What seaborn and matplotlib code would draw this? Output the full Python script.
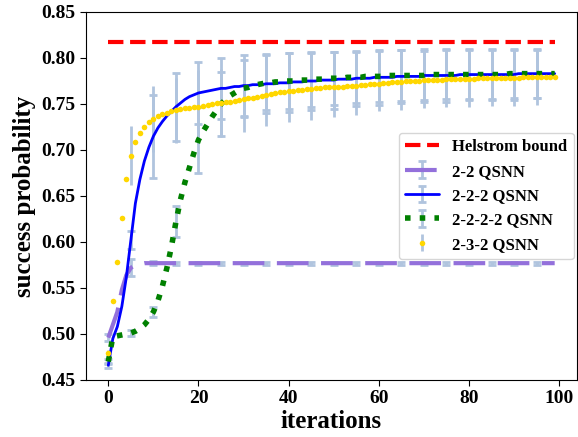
import numpy as np
import matplotlib
matplotlib.use("Agg")
import matplotlib.pyplot as plt
import seaborn as sns

# ---------------- data ----------------
iterations = list(range(100))
helstrom = 0.817

qsnn_22 = [0.496, 0.510, 0.524, 0.548, 0.564, 0.572, 0.575, 0.576, 0.577, 0.577] + [0.577] * 90

qsnn_222 = [0.466, 0.495, 0.508, 0.530, 0.562, 0.602, 0.642, 0.668, 0.688, 0.703,
            0.715, 0.724, 0.731, 0.737, 0.742, 0.747, 0.751, 0.755, 0.758, 0.760,
            0.762, 0.763, 0.764, 0.765, 0.766, 0.767, 0.767, 0.768, 0.769, 0.769,
            0.770, 0.770, 0.771, 0.771, 0.771, 0.772, 0.772, 0.772, 0.773, 0.773,
            0.773, 0.774, 0.774, 0.774, 0.775, 0.775, 0.775, 0.776, 0.776, 0.776,
            0.776, 0.777, 0.777, 0.777, 0.777, 0.778, 0.778, 0.778, 0.778, 0.779,
            0.779, 0.779, 0.779, 0.779, 0.780, 0.780, 0.780, 0.780, 0.780, 0.780,
            0.781, 0.781, 0.781, 0.781, 0.781, 0.781, 0.781, 0.781, 0.782, 0.782,
            0.782, 0.782, 0.782, 0.782, 0.782, 0.782, 0.782, 0.782, 0.782, 0.782,
            0.782, 0.783, 0.783, 0.783, 0.783, 0.783, 0.783, 0.783, 0.783, 0.783]

qsnn_2222 = [0.470, 0.497, 0.498, 0.499, 0.500, 0.501, 0.503, 0.506, 0.510, 0.516,
             0.524, 0.536, 0.552, 0.572, 0.595, 0.622, 0.646, 0.665, 0.681, 0.697,
             0.711, 0.720, 0.728, 0.736, 0.743, 0.750, 0.755, 0.759, 0.762, 0.765,
             0.767, 0.768, 0.770, 0.771, 0.772, 0.773, 0.773, 0.774, 0.774, 0.775,
             0.775, 0.775, 0.776, 0.776, 0.776, 0.776, 0.777, 0.777, 0.777, 0.778,
             0.778, 0.778, 0.778, 0.779, 0.779, 0.779, 0.779, 0.780, 0.780, 0.780,
             0.780, 0.780, 0.781, 0.781, 0.781, 0.781, 0.781, 0.781, 0.781, 0.781,
             0.781, 0.782, 0.782, 0.782, 0.782, 0.782, 0.782, 0.782, 0.782, 0.782,
             0.782, 0.782, 0.782, 0.782, 0.782, 0.782, 0.782, 0.782, 0.782, 0.783,
             0.783, 0.783, 0.783, 0.783, 0.783, 0.783, 0.783, 0.783, 0.783, 0.783]

qsnn_232 = [0.479, 0.536, 0.578, 0.626, 0.668, 0.694, 0.709, 0.718, 0.725, 0.730,
            0.734, 0.737, 0.739, 0.740, 0.742, 0.743, 0.745, 0.746, 0.746, 0.747,
            0.747, 0.748, 0.749, 0.750, 0.751, 0.751, 0.752, 0.752, 0.753, 0.754,
            0.755, 0.756, 0.757, 0.758, 0.759, 0.760, 0.761, 0.762, 0.763, 0.763,
            0.764, 0.764, 0.765, 0.765, 0.766, 0.766, 0.767, 0.767, 0.768, 0.768,
            0.769, 0.769, 0.769, 0.770, 0.770, 0.770, 0.771, 0.771, 0.772, 0.772,
            0.772, 0.773, 0.773, 0.774, 0.774, 0.774, 0.775, 0.775, 0.775, 0.775,
            0.776, 0.776, 0.776, 0.776, 0.776, 0.777, 0.777, 0.777, 0.777, 0.777,
            0.777, 0.777, 0.778, 0.778, 0.778, 0.778, 0.778, 0.778, 0.778, 0.778,
            0.778, 0.778, 0.779, 0.779, 0.779, 0.779, 0.779, 0.779, 0.779, 0.779]

# standard deviations shown every 5 iterations (0, 5, ..., 95)
std_22 = [0.004, 0.009, 0.002, 0.0015, 0.0015, 0.0015, 0.0015, 0.0015, 0.0015, 0.0015,
          0.0015, 0.0015, 0.0015, 0.0015, 0.0015, 0.0015, 0.0015, 0.0015, 0.0015, 0.0015]
std_222 = [0.003, 0.010, 0.045, 0.037, 0.034, 0.033, 0.033, 0.032, 0.032, 0.031,
           0.031, 0.030, 0.030, 0.029, 0.029, 0.029, 0.028, 0.028, 0.028, 0.027]
std_2222 = [0.003, 0.003, 0.005, 0.017, 0.036, 0.035, 0.031, 0.030, 0.030, 0.029,
            0.029, 0.028, 0.028, 0.028, 0.027, 0.027, 0.027, 0.027, 0.026, 0.026]
std_232 = [0.004, 0.032, 0.036, 0.035, 0.040, 0.037, 0.035, 0.034, 0.034, 0.033,
           0.033, 0.032, 0.030, 0.030, 0.030, 0.030, 0.030, 0.030, 0.030, 0.030]

labels = ["Helstrom bound", "2-2 QSNN", "2-2-2 QSNN", "2-2-2-2 QSNN", "2-3-2 QSNN"]
yticks = [0.45, 0.50, 0.55, 0.60, 0.65, 0.70, 0.75, 0.80, 0.85]
xticks = [0, 20, 40, 60, 80, 100]

# ---------------- style ----------------
sns.set_theme(style="ticks", rc={
    "axes.edgecolor": "black", "xtick.color": "black", "ytick.color": "black",
    "text.color": "black", "axes.labelcolor": "black",
    "axes.linewidth": 0.8, "xtick.major.width": 0.8, "ytick.major.width": 0.8,
    "xtick.major.size": 4, "ytick.major.size": 4,
})
plt.rcParams["font.family"] = ["Liberation Serif", "DejaVu Serif"]
plt.rcParams["font.weight"] = "bold"

fig = plt.figure(figsize=(5.78, 4.37), dpi=100)
ax = fig.add_axes([86 / 578, 1 - 380 / 437, 491 / 578, 368 / 437])

it = np.array(iterations)

sns.lineplot(x=it, y=np.full(len(it), helstrom), color="red", linestyle="--",
             linewidth=3, label=labels[0], ax=ax)


def draw(y, std, label, **kw):
    yerr = np.zeros(len(it))
    yerr[::5] = std
    c = ax.errorbar(it, y, yerr=yerr, errorevery=5, ecolor="lightsteelblue",
                    elinewidth=2, capsize=3, capthick=2, label=label, **kw)
    c.lines[0].set_zorder(3)
    for cl in c.lines[1]:
        cl.set_zorder(1.5)
    for bl in c.lines[2]:
        bl.set_zorder(1.5)
    return c


draw(qsnn_22, std_22, labels[1], color="mediumpurple", linestyle=(0, (7.6, 3)), linewidth=3)
draw(qsnn_222, std_222, labels[2], color="blue", linestyle="-", linewidth=2)
draw(qsnn_2222, std_2222, labels[3], color="green", linestyle=":", linewidth=4)
draw(qsnn_232, std_232, labels[4], color="gold", linestyle="none", marker="o",
     markersize=4, markeredgewidth=0)

ax.set_ylim(0.45, 0.85)
ax.set_yticks(yticks)
ax.set_yticklabels([f"{v:.2f}" for v in yticks])
ax.set_xticks(xticks)
ax.set_xticklabels([str(v) for v in xticks])
ax.tick_params(labelsize=14)
for t in ax.get_xticklabels() + ax.get_yticklabels():
    t.set_fontweight("bold")

ax.set_xlabel("iterations", fontsize=18, fontweight="bold", labelpad=2)
ax.set_ylabel("success probability", fontsize=18, fontweight="bold", labelpad=4)

ax.legend(loc="center right", prop={"weight": "bold", "size": 12}, frameon=True,
          edgecolor="0.8", framealpha=0.8, borderaxespad=0.2)

fig.savefig("out.png", dpi=100)
